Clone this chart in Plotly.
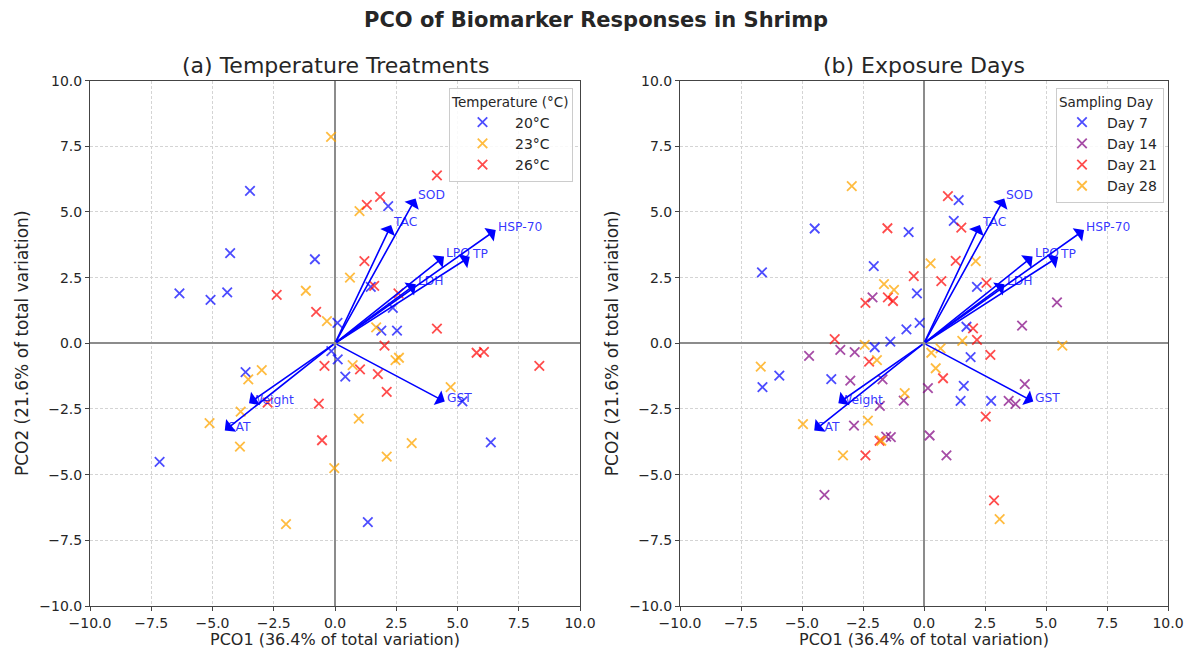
import plotly.graph_objects as go

# ---------------- data ----------------
# Panel (a): Temperature treatments
t20_x = [-3.47, -4.28, -0.82, -6.35, -5.08, -4.40, 0.10, 2.17, 1.46, 2.36, 1.89, 2.53, -3.65, -0.15, 0.11, 0.42, 5.20, 6.36, -7.16, 1.34]
t20_y = [5.80, 3.43, 3.20, 1.90, 1.65, 1.94, 0.78, 5.22, 2.15, 1.35, 0.48, 0.48, -1.10, -0.30, -0.61, -1.27, -2.21, -3.77, -4.51, -6.81]
t23_x = [-0.16, -1.19, -0.33, 1.00, 0.61, 1.68, -2.99, -3.54, -3.85, -5.12, -3.88, -0.03, -2.00, 0.72, 2.47, 2.61, 4.72, 0.97, 3.13, 2.11]
t23_y = [7.86, 2.00, 0.84, 5.03, 2.50, 0.61, -1.02, -1.37, -2.60, -3.04, -3.93, -4.75, -6.88, -0.83, -0.64, -0.55, -1.67, -2.87, -3.80, -4.31]
t26_x = [4.16, 1.84, 1.30, 1.20, 1.60, 2.59, -2.38, -0.77, 4.16, 2.02, -0.43, -2.75, -0.66, -0.53, 1.02, 1.75, 2.11, 5.78, 6.08, 8.34]
t26_y = [6.39, 5.57, 5.27, 3.13, 2.19, 1.90, 1.84, 1.20, 0.56, -0.09, -0.86, -2.26, -2.30, -3.69, -0.99, -1.17, -1.85, -0.36, -0.33, -0.86]

# Panel (b): Sampling days
d7_x = [-4.48, -0.63, -6.64, -2.06, -0.29, -0.72, -0.18, -2.02, -1.38, -5.93, -6.62, -3.80, 1.42, 1.22, 2.17, 1.74, 1.91, 1.63, 1.50, 2.75]
d7_y = [4.37, 4.23, 2.70, 2.94, 1.90, 0.53, 0.78, -0.15, 0.06, -1.23, -1.67, -1.36, 5.45, 4.66, 2.15, 0.63, -0.53, -1.62, -2.19, -2.19]
d14_x = [-2.11, -3.43, -2.84, -4.71, -3.02, -1.70, -0.83, 0.16, -1.81, -2.87, -1.36, -1.55, -4.08, 5.45, 4.02, 4.13, 3.47, 3.75, 0.23, 0.92]
d14_y = [1.75, -0.25, -0.34, -0.48, -1.42, -1.37, -2.18, -1.71, -2.38, -3.13, -3.57, -3.55, -5.77, 1.56, 0.67, -1.55, -2.19, -2.31, -3.51, -4.27]
d21_x = [-1.50, -0.42, -2.40, -1.48, -1.27, -3.66, -2.25, -1.82, -2.40, 0.98, 1.53, 1.30, 0.71, 2.56, 2.01, 2.17, 2.72, 0.78, 2.53, 2.87]
d21_y = [4.38, 2.56, 1.54, 1.75, 1.61, 0.16, -0.70, -3.71, -4.27, 5.60, 4.40, 3.14, 2.37, 2.30, 0.57, 0.13, -0.44, -1.33, -2.79, -5.98]
d28_x = [-2.96, -1.64, -1.23, -2.43, -6.69, -1.93, -0.79, -4.96, -2.30, -1.75, -3.32, 0.27, 2.12, 1.57, 5.67, 0.30, 0.68, 0.48, 3.10]
d28_y = [5.98, 2.25, 2.03, -0.06, -0.89, -0.64, -1.90, -3.08, -2.94, -3.71, -4.27, 3.04, 3.13, 0.09, -0.09, -0.36, -0.19, -0.95, -6.69]

# Biomarker loading vectors (arrow tips)
vec_names = ["SOD", "TAC", "HSP-70", "LPO", "TP", "LDH", "GST", "Weight", "CAT"]
vec_x = [3.29, 2.29, 6.56, 4.45, 5.50, 3.30, 4.48, -3.51, -4.50]
vec_y = [5.51, 4.50, 4.31, 3.30, 3.29, 2.25, -2.22, -2.28, -3.32]

temp_labels = ["20°C", "23°C", "26°C"]
day_labels = ["Day 7", "Day 14", "Day 21", "Day 28"]

# ---------------- styling ----------------
FONT = "DejaVu Sans"
TXT = "#262626"
C_BLUE = "rgba(0,0,255,0.7)"
C_ORANGE = "rgba(255,165,0,0.75)"
C_RED = "rgba(255,0,0,0.7)"
C_PURPLE = "rgba(128,0,128,0.7)"

fig = go.Figure()


def add_scatter(xs, ys, name, color, xa, ya, legend):
    fig.add_trace(go.Scatter(
        x=xs, y=ys, mode="markers", name=name,
        marker=dict(symbol="x-thin", size=9.5, line=dict(width=1.8, color=color), color=color),
        xaxis=xa, yaxis=ya, legend=legend,
    ))


add_scatter(t20_x, t20_y, temp_labels[0], C_BLUE, "x", "y", "legend")
add_scatter(t23_x, t23_y, temp_labels[1], C_ORANGE, "x", "y", "legend")
add_scatter(t26_x, t26_y, temp_labels[2], C_RED, "x", "y", "legend")

add_scatter(d7_x, d7_y, day_labels[0], C_BLUE, "x2", "y2", "legend2")
add_scatter(d14_x, d14_y, day_labels[1], C_PURPLE, "x2", "y2", "legend2")
add_scatter(d21_x, d21_y, day_labels[2], C_RED, "x2", "y2", "legend2")
add_scatter(d28_x, d28_y, day_labels[3], C_ORANGE, "x2", "y2", "legend2")

annotations = []
for xr, yr in (("x", "y"), ("x2", "y2")):
    for nm, vx, vy in zip(vec_names, vec_x, vec_y):
        annotations.append(dict(
            x=vx, y=vy, ax=0, ay=0, xref=xr, yref=yr, axref=xr, ayref=yr,
            text="", showarrow=True, arrowhead=1, arrowsize=1.7, arrowwidth=1.6,
            arrowcolor="#0000ff", standoff=0,
        ))
        annotations.append(dict(
            x=vx, y=vy + 0.12, xref=xr, yref=yr, text=nm, showarrow=False,
            xanchor="left", yanchor="middle",
            font=dict(family=FONT, size=12.3, color="rgba(0,0,255,0.8)"),
        ))

# Titles
annotations.append(dict(
    x=0.5, y=1 - 20 / 649, xref="paper", yref="paper", showarrow=False,
    text="<b>PCO of Biomarker Responses in Shrimp</b>",
    font=dict(family=FONT, size=21, color=TXT), xanchor="center", yanchor="middle",
))
annotations.append(dict(
    x=335 / 1191, y=1 - 66 / 649, xref="paper", yref="paper", showarrow=False,
    text="(a) Temperature Treatments",
    font=dict(family=FONT, size=22, color=TXT), xanchor="center", yanchor="middle",
))
annotations.append(dict(
    x=924 / 1191, y=1 - 66 / 649, xref="paper", yref="paper", showarrow=False,
    text="(b) Exposure Days",
    font=dict(family=FONT, size=22, color=TXT), xanchor="center", yanchor="middle",
))

ticks = [-10, -7.5, -5, -2.5, 0, 2.5, 5, 7.5, 10]
axis_common = dict(
    range=[-10, 10], tickvals=ticks, tickformat=".1f", automargin=False,
    showgrid=True, gridcolor="#d4d4d4", griddash="3px,2px", gridwidth=0.8,
    zeroline=True, zerolinecolor="#8c8c8c", zerolinewidth=1.5,
    showline=True, linecolor="#444444", linewidth=1, mirror=True,
    ticks="outside", ticklen=4, tickcolor="#444444",
    tickfont=dict(family=FONT, size=14, color=TXT),
)

ydom = [1 - 606 / 649, 1 - 80.6 / 649]
xtitle = dict(text="PCO1 (36.4% of total variation)", standoff=3,
              font=dict(family=FONT, size=16, color=TXT))
ytitle = dict(text="PCO2 (21.6% of total variation)", standoff=6,
              font=dict(family=FONT, size=17, color=TXT))
fig.update_layout(
    width=1191, height=649,
    margin=dict(l=0, r=0, t=0, b=0),
    paper_bgcolor="white", plot_bgcolor="white",
    font=dict(family=FONT, color=TXT),
    xaxis=dict(domain=[90 / 1191, 580 / 1191], anchor="y", title=xtitle, **axis_common),
    yaxis=dict(domain=ydom, anchor="x", title=ytitle, **axis_common),
    xaxis2=dict(domain=[680 / 1191, 1168 / 1191], anchor="y2", title=xtitle, **axis_common),
    yaxis2=dict(domain=ydom, anchor="x2", title=ytitle, **axis_common),
    legend=dict(
        x=573 / 1191, y=1 - 88 / 649, xanchor="right", yanchor="top",
        bgcolor="rgba(255,255,255,0.85)", bordercolor="#cccccc", borderwidth=1,
        title=dict(text="Temperature (°C)", font=dict(family=FONT, size=13.5, color=TXT)),
        font=dict(family=FONT, size=14, color=TXT), itemwidth=55, tracegroupgap=0,
    ),
    legend2=dict(
        x=1164 / 1191, y=1 - 88 / 649, xanchor="right", yanchor="top",
        bgcolor="rgba(255,255,255,0.85)", bordercolor="#cccccc", borderwidth=1,
        title=dict(text="Sampling Day", font=dict(family=FONT, size=13.5, color=TXT)),
        font=dict(family=FONT, size=14, color=TXT), itemwidth=40, tracegroupgap=0,
    ),
    annotations=annotations,
    showlegend=True,
)

fig.write_html("out.html", config={"displayModeBar": False},
               post_script="document.body.style.margin='0';document.body.style.overflow='hidden';")
